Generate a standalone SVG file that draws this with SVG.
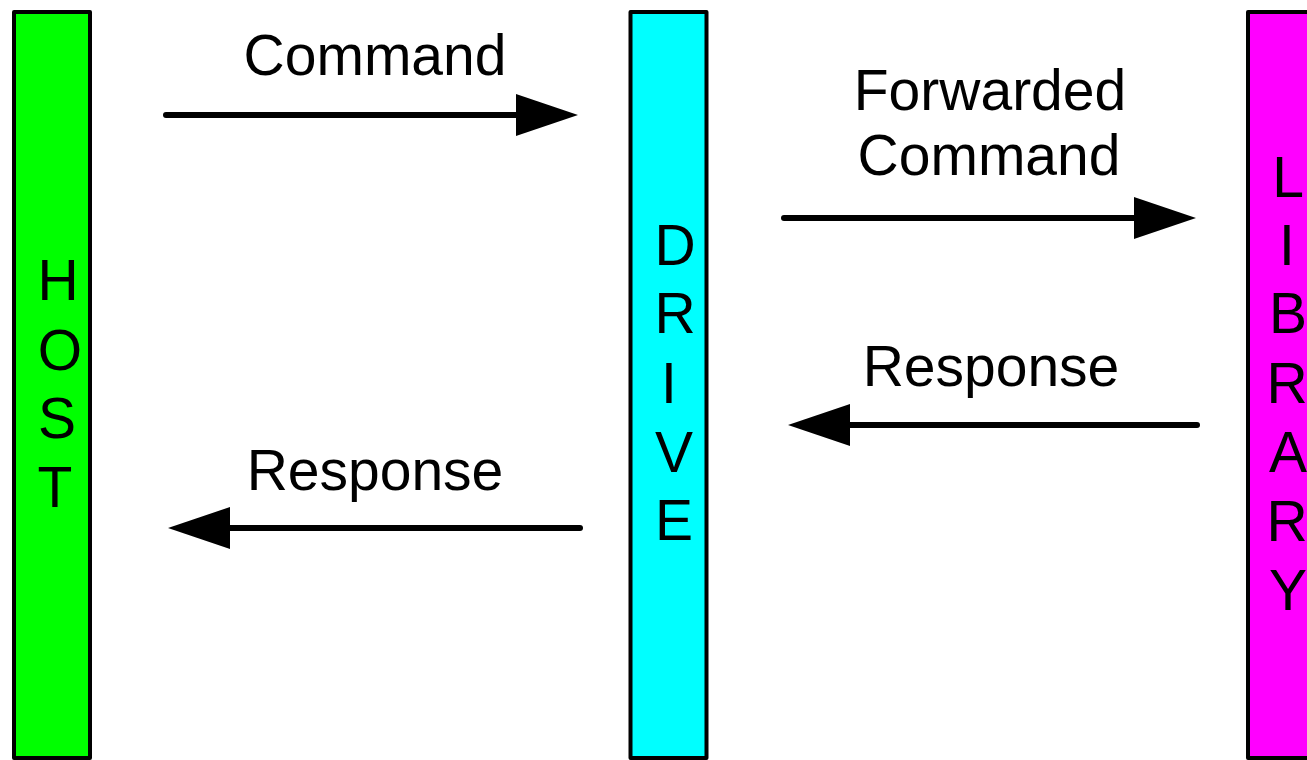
<svg xmlns="http://www.w3.org/2000/svg" width="1307" height="760" viewBox="0 0 1307 760">
<style>
.bar{stroke:#000;stroke-width:4;stroke-linejoin:round}
.lbl{font-family:"Liberation Sans",Arial,sans-serif;font-size:57px;fill:#000;text-anchor:middle}
.conn{stroke:#000;stroke-width:6;stroke-linecap:round;fill:none;marker-end:url(#ah)}
</style>
<defs>
<marker id="ah" viewBox="0 0 62 42" markerWidth="62" markerHeight="42" markerUnits="userSpaceOnUse" refX="12" refY="21" orient="auto">
<path d="M0,0 L62,21 L0,42 Z" fill="#000"/>
</marker>
</defs>
<rect width="1307" height="760" fill="#fff"/>
<g id="host">
<rect class="bar" x="14" y="12" width="76" height="746" fill="#00FF00"/>
<text class="lbl" x="58" y="300">H</text>
<text class="lbl" x="60" y="370">O</text>
<text class="lbl" x="57" y="438">S</text>
<text class="lbl" x="55" y="507">T</text>
</g>
<g id="drive">
<rect class="bar" x="630.5" y="12" width="76" height="746" fill="#00FFFF"/>
<text class="lbl" x="675" y="265">D</text>
<text class="lbl" x="675" y="333">R</text>
<text class="lbl" x="669" y="403">I</text>
<text class="lbl" x="674" y="472">V</text>
<text class="lbl" x="674" y="540">E</text>
</g>
<g id="library">
<rect class="bar" x="1248" y="12" width="76" height="746" fill="#FF00FF"/>
<text class="lbl" x="1288" y="197">L</text>
<text class="lbl" x="1287" y="265">I</text>
<text class="lbl" x="1288" y="333">B</text>
<text class="lbl" x="1287" y="403">R</text>
<text class="lbl" x="1288" y="472">A</text>
<text class="lbl" x="1287" y="541">R</text>
<text class="lbl" x="1288" y="610">Y</text>
</g>
<g id="connectors">
<line class="conn" x1="166" y1="115" x2="528" y2="115"/>
<text class="lbl" x="375" y="75">Command</text>
<line class="conn" x1="784" y1="218" x2="1146" y2="218"/>
<text class="lbl" x="990" y="110">Forwarded</text>
<text class="lbl" x="989" y="175">Command</text>
<line class="conn" x1="1197" y1="425" x2="838" y2="425"/>
<text class="lbl" x="991" y="386">Response</text>
<line class="conn" x1="580" y1="528" x2="218" y2="528"/>
<text class="lbl" x="375" y="490">Response</text>
</g>
</svg>
